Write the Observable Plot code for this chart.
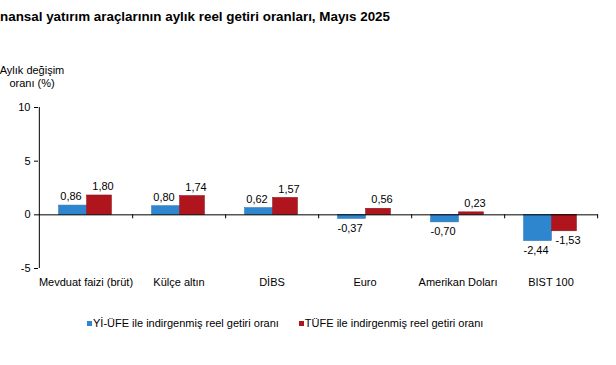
<!DOCTYPE html>
<html><head><meta charset="utf-8">
<script src="https://cdn.jsdelivr.net/npm/d3@7"></script>
<script src="https://cdn.jsdelivr.net/npm/@observablehq/plot@0.6"></script>
<style>
body{margin:0;width:616px;height:365px;overflow:hidden;background:#fff;font-family:"Liberation Sans",Arial,sans-serif;position:relative;}
#title{position:absolute;left:0;top:9px;font-size:13.4px;font-weight:bold;color:#000;white-space:nowrap;}
#ylab{position:absolute;left:-4px;top:64px;width:72px;text-align:center;font-size:11px;line-height:13px;color:#000;white-space:nowrap;}
#chart{position:absolute;left:0;top:95px;}
#legend{position:absolute;top:317px;left:87px;font-size:11px;color:#000;white-space:nowrap;}
#legend span.item{margin-right:20px;}
#legend i{display:inline-block;width:5px;height:5px;margin-right:1px;vertical-align:1px;}
</style></head>
<body>
<div id="title">nansal yatırım araçlarının aylık reel getiri oranları, Mayıs 2025</div>
<div id="ylab">Aylık değişim<br>oranı (%)</div>
<div id="chart"></div>
<div id="legend"></div>
<script>
const categories = ["Mevduat faizi (brüt)", "Külçe altın", "DİBS", "Euro", "Amerikan Doları", "BIST 100"];
const seriesNames = ["Yİ-ÜFE ile indirgenmiş reel getiri oranı", "TÜFE ile indirgenmiş reel getiri oranı"];
const yiufe = [0.86, 0.80, 0.62, -0.37, -0.70, -2.44];
const tufe = [1.80, 1.74, 1.57, 0.56, 0.23, -1.53];
const yTicks = [-5, 0, 5, 10];
const colors = ["#2e86cf", "#b0141c"];
const strokes = ["#2a72b0", "#8a0f15"];

const fmt = v => v.toFixed(2).replace(".", ",");
const rows = [];
categories.forEach((c, i) => {
  rows.push({cat: c, s: 0, v: yiufe[i]});
  rows.push({cat: c, s: 1, v: tufe[i]});
});

const W = 616, H = 200, ML = 38, MR = 18;
const step = (W - ML - MR) / categories.length;
const half = step / 2;

const seriesMarks = [0, 1].flatMap(s => {
  const d = rows.filter(r => r.s === s);
  const inL = s === 0 ? half - 27 : half + 1;
  const inR = s === 0 ? half - 1 : half - 26;
  const dx = s === 0 ? -15 : 17;
  return [
    Plot.barY(d, {x: "cat", y: "v", fill: colors[s], stroke: strokes[s], strokeWidth: 0.6, insetLeft: inL, insetRight: inR}),
    Plot.text(d.filter(r => r.v >= 0), {x: "cat", y: "v", text: r => fmt(r.v), dx, dy: -9, fontSize: 11, fill: "#000"}),
    Plot.text(d.filter(r => r.v < 0), {x: "cat", y: "v", text: r => fmt(r.v), dx, dy: 9.5, fontSize: 11, fill: "#000"})
  ];
});

const plot = Plot.plot({
  width: W, height: H,
  marginLeft: ML, marginRight: MR, marginTop: 12, marginBottom: 27,
  style: {fontFamily: "'Liberation Sans', Arial, sans-serif", fontSize: "11px", color: "#000", background: "transparent"},
  x: {domain: categories, padding: 0, label: null},
  y: {domain: [yTicks[0], yTicks[yTicks.length - 1]], label: null},
  marks: [
    Plot.axisY({ticks: yTicks, tickSize: 4, tickPadding: 4, tickFormat: d => String(d), fontSize: 11, label: null}),
    // vertical axis line at the left edge of the first band
    Plot.ruleX([categories[0]], {x: d => d, y1: yTicks[0], y2: yTicks[yTicks.length - 1], dx: -half, stroke: "#000", strokeWidth: 1}),
    Plot.axisX({tickSize: 0, tickPadding: 10, fontSize: 11, label: null}),
    ...seriesMarks,
    Plot.ruleY([0], {stroke: "#000", strokeWidth: 1}),
    // small downward tick marks at category boundaries
    Plot.ruleX(categories, {x: d => d, y1: 0, y2: 0, insetBottom: -4, dx: half, stroke: "#000", strokeWidth: 1})
  ]
});

document.getElementById("chart").appendChild(plot);

const leg = document.getElementById("legend");
seriesNames.forEach((n, i) => {
  const s = document.createElement("span");
  s.className = "item";
  s.innerHTML = `<i style="background:${colors[i]}"></i>${n}`;
  leg.appendChild(s);
});
</script>
</body></html>
